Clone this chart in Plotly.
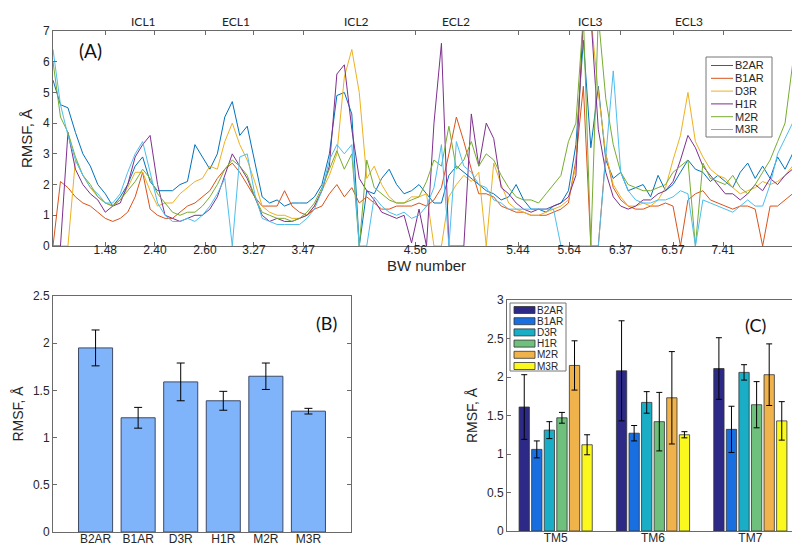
import plotly.graph_objects as go

# ---------------- Panel A data (RMSF per residue sample) ----------------
RECEPTORS = ["B2AR", "B1AR", "D3R", "H1R", "M2R", "M3R"]

B2AR = [5.4, 4.6, 4.5, 3.7, 3.0, 2.6, 2.0, 1.7, 1.3, 1.6,
        2.0, 2.6, 2.9, 2.1, 1.8, 1.8, 1.8, 2.0, 2.1, 3.3,
        2.9, 2.5, 3.0, 4.2, 4.7, 3.6, 3.9, 2.8, 1.6, 1.4,
        1.5, 1.3, 1.4, 1.4, 1.4, 1.6, 2.0, 3.0, 4.9, 5.0,
        4.3, 0.0, 1.8, 1.7, 2.2, 2.5, 2.0, 1.7, 1.8, 2.0,
        1.7, 1.4, 1.4, 2.3, 2.6, 2.4, 2.2, 2.0, 1.8, 1.7,
        1.5, 1.6, 2.0, 1.5, 1.2, 1.2, 1.1, 1.3, 1.4, 1.8,
        3.3, 6.7, 3.2, 5.2, 2.8, 2.2, 2.4, 1.8, 1.9, 2.0,
        1.6, 2.3, 1.8, 2.0, 2.4, 2.8, 2.5, 2.4, 2.1, 2.3,
        2.1, 1.9, 2.4, 2.7, 2.2, 2.6, 2.2, 2.9, 2.5, 3.0,
        4.2]
B1AR = [0.0, 2.1, 1.9, 1.6, 1.4, 1.3, 1.1, 0.9, 0.8, 0.9,
        1.1, 1.6, 2.4, 1.2, 1.0, 0.9, 0.9, 1.1, 1.3, 1.4,
        1.6, 1.8, 2.2, 2.5, 2.7, 2.4, 2.0, 1.6, 1.3, 1.3,
        1.3, 1.8, 1.3, 1.1, 1.0, 1.2, 1.3, 1.7, 2.0, 1.6,
        1.9, 1.4, 1.6, 1.4, 1.2, 1.2, 1.3, 1.3, 1.3, 1.4,
        1.3, 1.5, 1.9, 3.0, 4.2, 3.4, 2.5, 1.7, 1.7, 1.6,
        1.3, 1.2, 1.1, 1.1, 1.0, 1.0, 1.0, 1.1, 1.2, 1.4,
        2.8, 5.2, 0.0, 0.0, 3.0, 1.9, 1.5, 1.3, 1.2, 1.2,
        1.3, 1.3, 1.4, 1.3, 0.0, 1.5, 1.7, 1.8, 1.5, 1.4,
        1.3, 1.2, 1.3, 1.3, 1.2, 0.0, 1.3, 1.3, 1.5, 1.7,
        2.1]
D3R = [0.0, 0.0, 0.0, 2.8, 2.3, 1.9, 1.6, 1.4, 1.3, 1.5,
       1.9, 2.4, 2.4, 1.8, 1.3, 1.4, 1.4, 1.7, 1.9, 2.1,
       2.2, 2.6, 2.5, 3.4, 4.0, 3.3, 2.8, 2.1, 1.3, 1.1,
       1.0, 1.0, 0.9, 0.9, 1.0, 1.3, 1.8, 2.3, 3.0, 5.5,
       6.4, 5.0, 2.2, 2.6, 2.0, 1.6, 1.4, 1.4, 1.6, 1.6,
       1.7, 0.0, 0.0, 1.6, 2.0, 2.3, 2.1, 2.4, 0.0, 2.7,
       2.0, 1.4, 1.2, 1.1, 1.0, 1.0, 1.1, 1.2, 1.3, 1.5,
       2.6, 7.5, 7.5, 5.0, 3.0, 2.0, 1.6, 1.3, 1.3, 1.4,
       1.3, 1.5, 1.9, 2.8, 3.6, 5.0, 3.4, 2.9, 2.5, 2.3,
       2.2, 1.9, 1.7, 1.8, 1.9, 2.1, 2.0, 2.1, 2.3, 2.6,
       3.0]
H1R = [0.0, 0.0, 3.7, 2.5, 2.0, 1.7, 1.5, 1.1, 1.3, 1.4,
       2.0, 2.9, 3.3, 3.6, 2.0, 1.0, 0.9, 0.8, 0.9, 1.0,
       1.0, 1.2, 1.6, 2.3, 3.0, 2.6, 2.2, 1.6, 1.0, 0.8,
       0.9, 0.8, 0.8, 0.9, 1.0, 1.3, 1.8, 2.6, 5.6, 5.9,
       3.8, 2.2, 1.8, 1.5, 1.1, 1.0, 0.9, 1.0, 0.1, 1.2,
       0.0, 4.0, 6.6, 0.0, 0.0, 0.0, 4.3, 2.6, 4.0, 3.5,
       1.9, 1.7, 1.4, 1.2, 1.1, 1.2, 1.2, 1.3, 1.4, 1.6,
       2.3, 7.5, 7.5, 3.8, 2.4, 1.6, 1.3, 1.2, 1.3, 1.5,
       1.5, 1.7, 1.8, 2.1, 2.8, 3.6, 3.2, 2.6, 2.3, 2.0,
       1.7, 1.7, 1.5, 1.7, 2.0, 1.8, 2.2, 2.0, 2.3, 2.5,
       3.2]
M2R = [6.0, 4.2, 3.7, 2.9, 2.3, 2.0, 1.6, 1.4, 1.3, 1.5,
       1.8, 2.1, 2.5, 2.2, 1.7, 1.4, 1.1, 1.0, 1.1, 1.1,
       1.3, 1.6, 2.0, 2.5, 2.8, 2.6, 2.3, 1.6, 1.1, 1.0,
       0.9, 0.9, 0.8, 0.9, 1.1, 1.4, 1.9, 2.5, 3.1, 2.5,
       3.0, 0.0, 2.8, 1.9, 1.7, 1.5, 1.4, 1.4, 1.5, 1.6,
       2.1, 2.8, 2.6, 3.9, 2.5, 2.8, 3.4, 2.6, 3.0, 2.8,
       2.3, 1.9, 1.6, 1.5, 1.5, 1.4, 1.7, 2.0, 2.3, 3.4,
       4.0, 7.5, 0.0, 7.5, 4.8, 3.3, 2.4, 2.0, 1.9, 1.8,
       1.8, 1.9, 2.0, 2.4, 2.6, 2.8, 0.0, 2.7, 2.2, 2.1,
       2.0, 2.3, 1.9, 1.7, 2.0, 2.4, 2.8, 3.4, 4.0, 5.9,
       3.2]
M3R = [6.4, 4.6, 3.6, 2.8, 2.3, 1.9, 1.7, 1.4, 1.4, 1.7,
       2.4, 3.0, 3.4, 2.4, 1.4, 1.0, 0.8, 0.8, 0.9, 0.8,
       1.0, 1.3, 1.7, 2.2, 0.0, 2.9, 3.0, 1.7, 0.9, 0.8,
       0.7, 0.7, 0.7, 0.7, 0.9, 1.2, 1.8, 2.8, 3.3, 3.0,
       3.3, 0.0, 0.0, 1.6, 1.3, 1.1, 1.0, 1.1, 0.9, 1.0,
       1.3, 1.9, 3.3, 0.0, 3.4, 2.6, 2.4, 2.0, 1.9, 1.5,
       1.4, 1.2, 1.2, 1.2, 1.2, 1.2, 1.2, 1.2, 0.0, 0.0,
       0.0, 0.0, 0.0, 0.0, 2.9, 5.7, 2.4, 1.8, 1.5, 1.4,
       1.4, 1.5, 1.5, 1.6, 1.8, 1.7, 0.0, 1.5, 1.4, 1.3,
       1.2, 1.1, 1.3, 1.5, 1.3, 1.3, 2.0, 3.0, 3.5, 4.0,
       0.0]
SERIES_A = [B2AR, B1AR, D3R, H1R, M2R, M3R]
RESIDUE_IDX = list(range(len(B2AR)))

# BW-number tick labels and where they sit along the residue index
BW_TICK_IDX = [7.0, 13.65, 20.35, 26.9, 33.5, 48.5, 62.25, 69.1, 76.0, 83.0, 89.7]
BW_TICK_TEXT = ["1.48", "2.40", "2.60", "3.27", "3.47", "4.56", "5.44", "5.64", "6.37", "6.57", "7.41"]
LOOP_IDX = [12.05, 24.5, 40.6, 53.9, 72.0, 85.1]
LOOP_TEXT = ["ICL1", "ECL1", "ICL2", "ECL2", "ICL3", "ECL3"]

# ---------------- Panel B data ----------------
MEAN_B = [1.95, 1.21, 1.59, 1.39, 1.65, 1.28]
ERR_B = [0.19, 0.11, 0.20, 0.10, 0.14, 0.03]

# ---------------- Panel C data ----------------
TM = ["TM5", "TM6", "TM7"]
MEAN_C = {
    "B2AR": [1.61, 2.08, 2.11],
    "B1AR": [1.06, 1.27, 1.32],
    "D3R": [1.31, 1.67, 2.06],
    "H1R": [1.47, 1.42, 1.64],
    "M2R": [2.15, 1.73, 2.03],
    "M3R": [1.12, 1.25, 1.43],
}
ERR_C = {
    "B2AR": [0.42, 0.65, 0.40],
    "B1AR": [0.11, 0.10, 0.30],
    "D3R": [0.11, 0.14, 0.10],
    "H1R": [0.07, 0.38, 0.30],
    "M2R": [0.32, 0.60, 0.40],
    "M3R": [0.13, 0.04, 0.25],
}

# ---------------- styles ----------------
W, H = 800, 546
LINE_COLORS = ["#0072BD", "#D95319", "#EDB120", "#7E2F8E", "#77AC30", "#4DBEEE"]
BAR_C_COLORS = ["#2C2A86", "#1A6FE0", "#19AEC6", "#6FC07C", "#F0B24A", "#FAF81C"]
BAR_B_COLOR = "#7FB3FA"
AX_COLOR = "#6a6a6a"
FONT = "Liberation Sans, Arial, sans-serif"
LABEL_FONT = "Lato, Open Sans, sans-serif"


def px(x):
    return x / W


def py(y):
    return 1 - y / H


fig = go.Figure()

for name, vals, col in zip(RECEPTORS, SERIES_A, LINE_COLORS):
    fig.add_trace(go.Scatter(
        x=RESIDUE_IDX, y=vals, mode="lines", name=name, showlegend=False,
        line=dict(color=col, width=1), xaxis="x", yaxis="y"))

fig.add_trace(go.Bar(
    x=RECEPTORS, y=MEAN_B, width=0.8, showlegend=False,
    marker=dict(color=BAR_B_COLOR, line=dict(color="#3c4a66", width=1)),
    error_y=dict(type="data", array=ERR_B, color="black", thickness=1, width=4),
    xaxis="x2", yaxis="y2"))

for name, col in zip(RECEPTORS, BAR_C_COLORS):
    fig.add_trace(go.Bar(
        x=TM, y=MEAN_C[name], name=name, showlegend=False,
        marker=dict(color=col, line=dict(color="#333333", width=0.8)),
        error_y=dict(type="data", array=ERR_C[name], color="black", thickness=1, width=3),
        xaxis="x3", yaxis="y3"))

axis_common = dict(showline=True, linecolor=AX_COLOR, linewidth=1, mirror="ticks",
                   ticks="inside", ticklen=4, tickcolor=AX_COLOR, showgrid=False,
                   zeroline=False, automargin=False,
                   tickfont=dict(family=FONT, size=12, color="#262626"))

annotations = []
shapes = []
for xi, t in zip(LOOP_IDX, LOOP_TEXT):
    annotations.append(dict(x=xi, y=py(13), xref="x", yref="paper", text=t,
                            showarrow=False, font=dict(family=LABEL_FONT, size=12, color="#222"),
                            xanchor="center", yanchor="middle"))
annotations += [
    dict(x=px(82), y=py(43), xref="paper", yref="paper", text="(A)", showarrow=False,
         font=dict(family=LABEL_FONT, size=19, color="#111"), xanchor="center", yanchor="middle"),
    dict(x=px(318), y=py(315), xref="paper", yref="paper", text="(B)", showarrow=False,
         font=dict(family=LABEL_FONT, size=18, color="#111"), xanchor="center", yanchor="middle"),
    dict(x=px(747), y=py(317), xref="paper", yref="paper", text="(C)", showarrow=False,
         font=dict(family=LABEL_FONT, size=18, color="#111"), xanchor="center", yanchor="middle"),
]

# ---- compact legend for panel A (line samples) ----
shapes.append(dict(type="rect", xref="paper", yref="paper", layer="above",
                   x0=px(698), x1=px(764), y0=py(129), y1=py(49),
                   line=dict(color="#777", width=1), fillcolor="white"))
for k, (name, col) in enumerate(zip(RECEPTORS, LINE_COLORS)):
    ry = 57.5 + 12.8 * k
    shapes.append(dict(type="line", xref="paper", yref="paper", layer="above",
                       x0=px(703), x1=px(725), y0=py(ry), y1=py(ry),
                       line=dict(color=col, width=1)))
    annotations.append(dict(x=px(726), y=py(ry), xref="paper", yref="paper", text=name,
                            showarrow=False, xanchor="left", yanchor="middle", borderpad=0,
                            font=dict(family=FONT, size=11, color="#262626")))

# ---- compact legend for panel C (colour swatches) ----
shapes.append(dict(type="rect", xref="paper", yref="paper", layer="above",
                   x0=px(502), x1=px(558), y0=py(363), y1=py(295),
                   line=dict(color="#777", width=1), fillcolor="white"))
for k, (name, col) in enumerate(zip(RECEPTORS, BAR_C_COLORS)):
    ry = 302 + 11.2 * k
    shapes.append(dict(type="rect", xref="paper", yref="paper", layer="above",
                       x0=px(506), x1=px(527), y0=py(ry + 3.5), y1=py(ry - 3.5),
                       line=dict(color="#333", width=0.8), fillcolor=col))
    annotations.append(dict(x=px(528), y=py(ry), xref="paper", yref="paper", text=name,
                            showarrow=False, xanchor="left", yanchor="middle", borderpad=0,
                            font=dict(family=FONT, size=10, color="#262626")))

fig.update_layout(
    width=W, height=H,
    margin=dict(l=0, r=0, t=0, b=0),
    paper_bgcolor="white", plot_bgcolor="white",
    font=dict(family=FONT, size=12, color="#262626"),
    barmode="group", bargap=0.225, bargroupgap=0.18,
    xaxis=dict(domain=[px(45), px(792)], range=[0, 100], anchor="y",
               tickmode="array", tickvals=BW_TICK_IDX, ticktext=BW_TICK_TEXT,
               ticklabelstandoff=-7,
               title=dict(text="BW number", font=dict(size=15), standoff=0), **axis_common),
    yaxis=dict(domain=[py(238), py(23)], range=[0, 7], dtick=1, anchor="x",
               title=dict(text="RMSF, Å", font=dict(size=15), standoff=6), **axis_common),
    xaxis2=dict(domain=[px(45), px(343)], range=[-1, 6], anchor="y2", ticklabelstandoff=-4,
                **{**axis_common, "ticks": ""}),
    yaxis2=dict(domain=[py(524), py(288)], range=[0, 2.5], dtick=0.5, anchor="x2",
                title=dict(text="RMSF, Å", font=dict(size=14), standoff=6), **axis_common),
    xaxis3=dict(domain=[px(499), px(791)], range=[-0.5, 2.5], anchor="y3", ticklabelstandoff=-4,
                **{**axis_common, "ticks": ""}),
    yaxis3=dict(domain=[py(523), py(292)], range=[0, 3], dtick=0.5, anchor="x3",
                title=dict(text="RMSF, Å", font=dict(size=14), standoff=6), **axis_common),
    annotations=annotations,
    shapes=shapes,
    showlegend=False,
)

fig.write_html("out.html")
